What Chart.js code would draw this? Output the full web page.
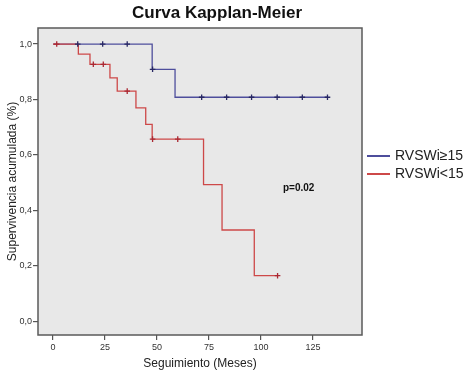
<!DOCTYPE html>
<html>
<head>
<meta charset="utf-8">
<script src="https://cdn.jsdelivr.net/npm/chart.js@4/dist/chart.umd.min.js"></script>
<style>
  html, body { margin: 0; padding: 0; background: #fff; }
  #c { display: block; }
</style>
</head>
<body>
<canvas id="c" width="473" height="374"></canvas>
<script>
// Kaplan-Meier steps (months, survival)
const blueTimes = [0, 47.7, 58.7, 132]
const blueSurv = [1, 0.909, 0.808, 0.808]
const blueCensorTimes = [11.9, 23.9, 35.7, 47.9, 71.5, 83.5, 95.5, 107.8, 119.9, 132]
const blueCensorSurv = [1, 1, 1, 0.909, 0.808, 0.808, 0.808, 0.808, 0.808, 0.808]

const redTimes = [0, 12.2, 17.8, 27.4, 30.9, 39.9, 44.6, 47.7, 72.4, 81.3, 96.8, 108]
const redSurv = [1, 0.964, 0.927, 0.878, 0.83, 0.77, 0.71, 0.657, 0.493, 0.329, 0.164, 0.164]
const redCensorTimes = [1.8, 19.4, 24.2, 35.7, 47.9, 60, 108]
const redCensorSurv = [1, 0.927, 0.927, 0.83, 0.657, 0.657, 0.164]

const xTicks = [0, 25, 50, 75, 100, 125]
const yTicks = [0, 0.2, 0.4, 0.6, 0.8, 1.0]
const seriesNames = ['RVSWi\u226515', 'RVSWi<15']
const pValueText = 'p=0.02'

const blue = 'rgb(78,78,156)'
const red = 'rgb(205,72,72)'

const pts = (xs, ys) => xs.map((x, i) => ({ x: x, y: ys[i] }))

const decorations = {
  id: 'decorations',
  beforeDraw (chart) {
    const { ctx, chartArea: a } = chart
    ctx.save()
    ctx.fillStyle = '#e8e8e8'
    ctx.fillRect(a.left, a.top, a.right - a.left, a.bottom - a.top)
    ctx.restore()
  },
  afterDraw (chart) {
    const { ctx, chartArea: a } = chart
    ctx.save()
    ctx.strokeStyle = '#5a5a5a'
    ctx.lineWidth = 1.5
    ctx.strokeRect(a.left, a.top, a.right - a.left, a.bottom - a.top)

    ctx.fillStyle = '#111'
    ctx.textAlign = 'center'
    ctx.textBaseline = 'middle'
    ctx.font = 'bold 17px "Liberation Sans", Arial, sans-serif'
    ctx.fillText('Curva Kapplan-Meier', 217, 13)

    ctx.font = 'bold 10px "Liberation Sans", Arial, sans-serif'
    ctx.textAlign = 'left'
    ctx.fillText(pValueText, 283, 188)

    // legend
    const cols = [blue, red]
    ctx.font = '14px "Liberation Sans", Arial, sans-serif'
    seriesNames.forEach((name, i) => {
      const y = 156 + i * 18
      ctx.strokeStyle = cols[i]
      ctx.lineWidth = 2
      ctx.beginPath()
      ctx.moveTo(367, y)
      ctx.lineTo(390, y)
      ctx.stroke()
      ctx.fillStyle = '#222'
      ctx.fillText(name, 395, y)
    })
    ctx.restore()
  }
}

const tickFont = { family: '"Liberation Sans", Arial, sans-serif', size: 9 }

new Chart(document.getElementById('c').getContext('2d'), {
  type: 'scatter',
  data: {
    datasets: [
      {
        type: 'scatter',
        label: 'censor red',
        data: pts(redCensorTimes, redCensorSurv),
        pointStyle: 'cross',
        pointRadius: 2.8,
        borderColor: 'rgb(170,40,50)',
        borderWidth: 1.3
      },
      {
        type: 'scatter',
        label: 'censor blue',
        data: pts(blueCensorTimes, blueCensorSurv),
        pointStyle: 'cross',
        pointRadius: 2.8,
        borderColor: 'rgb(40,40,100)',
        borderWidth: 1.3
      },
      {
        type: 'line',
        label: seriesNames[1],
        data: pts(redTimes, redSurv),
        stepped: true,
        borderColor: red,
        borderWidth: 1.3,
        pointRadius: 0,
        fill: false
      },
      {
        type: 'line',
        label: seriesNames[0],
        data: pts(blueTimes, blueSurv),
        stepped: true,
        borderColor: blue,
        borderWidth: 1.3,
        pointRadius: 0,
        fill: false
      }
    ]
  },
  options: {
    responsive: false,
    animation: false,
    layout: {
      padding: { top: 28, right: 111, left: 0, bottom: 0 }
    },
    plugins: {
      legend: { display: false },
      tooltip: { enabled: false }
    },
    scales: {
      x: {
        type: 'linear',
        min: -7.2,
        max: 148.6,
        afterFit: (s) => { s.height = 39 },
        afterBuildTicks: (s) => { s.ticks = xTicks.map((v) => ({ value: v })) },
        grid: { drawOnChartArea: false, drawTicks: true, tickLength: 5, color: '#555', lineWidth: 1.2 },
        border: { display: false },
        ticks: { font: tickFont, color: '#333', padding: 2, maxRotation: 0 },
        title: {
          display: true,
          text: 'Seguimiento (Meses)',
          font: { family: '"Liberation Sans", Arial, sans-serif', size: 12 },
          color: '#222',
          padding: { top: 0, bottom: 3 }
        }
      },
      y: {
        min: -0.05,
        max: 1.058,
        afterFit: (s) => { s.width = 38 },
        afterBuildTicks: (s) => { s.ticks = yTicks.map((v) => ({ value: v })) },
        grid: { drawOnChartArea: false, drawTicks: true, tickLength: 5, color: '#555', lineWidth: 1.2 },
        border: { display: false },
        ticks: {
          font: tickFont,
          color: '#333',
          padding: 1,
          callback: (v) => v.toFixed(1).replace('.', ',')
        },
        title: {
          display: true,
          text: 'Supervivencia acumulada (%)',
          font: { family: '"Liberation Sans", Arial, sans-serif', size: 12 },
          color: '#222',
          padding: { top: 5, bottom: 0 }
        }
      }
    }
  },
  plugins: [decorations]
})
</script>
</body>
</html>
